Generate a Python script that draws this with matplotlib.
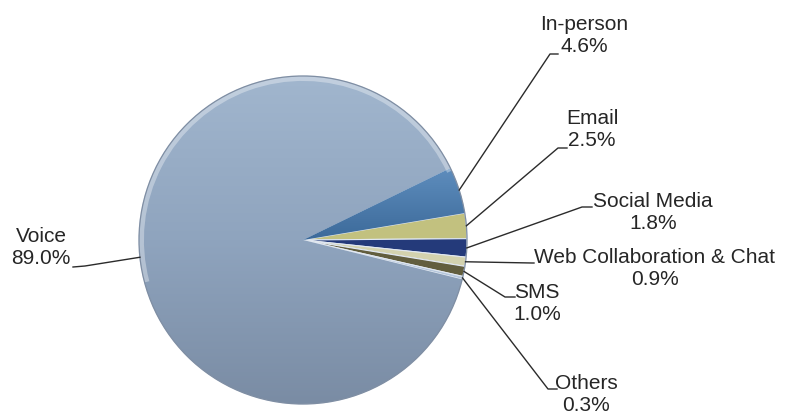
import numpy as np
import matplotlib
matplotlib.use("Agg")
import matplotlib.pyplot as plt
from matplotlib.colors import LinearSegmentedColormap
from matplotlib.patches import Arc

plt.rcParams['font.family'] = ['Liberation Sans', 'DejaVu Sans']

channels = ["In-person", "Email", "Social Media", "Web Collaboration & Chat",
            "SMS", "Others", "Voice"]
shares = [4.6, 2.5, 1.8, 0.9, 1.0, 0.3, 89.0]
colors = ["#4676a7", "#c2c17f", "#243a7a", "#d3d2ae", "#625e3e", "#b4c6dc", "#8da2bd"]

# label block centres and leader elbows (pixel space)
label_pos = [(584, 35), (592, 130), (653, 213), (655, 269), (537, 304), (586, 395), (41, 248)]
elbows = [[(550, 55), (558, 55)],
          [(558, 149), (567, 149)],
          [(582, 208), (592, 208)],
          [(532, 264), (534, 264)],
          [(505, 298), (515, 298)],
          [(548, 390), (557, 390)],
          [(85, 267), (73, 268)]]

W, H = 791, 414
cx, cy, r = 303, 241, 164

fig = plt.figure(figsize=(W / 100, H / 100), dpi=100)
ax = fig.add_axes([0, 0, 1, 1])

# y axis is flipped, so counterclock in data runs clockwise on screen
wedges, _ = ax.pie(shares, colors=colors, startangle=-26, counterclock=True,
                   center=(cx, cy), radius=r, frame=False,
                   wedgeprops=dict(edgecolor="#e1e8f1", linewidth=0.8))
ax.set_xlim(0, W)
ax.set_ylim(H, 0)
ax.axis("off")

# soft vertical shading on the big slice
grad = np.linspace(0, 1, 256).reshape(-1, 1)
cmap = LinearSegmentedColormap.from_list("voice", ["#a1b6ce", "#8fa4be", "#7a8ca4"])
im = ax.imshow(grad, cmap=cmap, aspect="auto",
               extent=(cx - r, cx + r, cy + r, cy - r), zorder=1.5)
im.set_clip_path(wedges[-1])

cmap2 = LinearSegmentedColormap.from_list("inp", ["#5f8ebe", "#3c6a9a"])
im2 = ax.imshow(grad, cmap=cmap2, aspect="auto",
                extent=(cx, cx + r, cy, cy - 0.45 * r), zorder=1.5)
im2.set_clip_path(wedges[0])

# bevel: light band along the upper rim, thin outline around
ax.add_patch(Arc((cx, cy), 2 * r - 5, 2 * r - 5, theta1=165, theta2=335,
                 color="white", alpha=0.35, linewidth=3.5, zorder=2))
ax.add_patch(plt.Circle((cx, cy), r, fill=False, edgecolor="#7f8ea3",
                        linewidth=0.9, zorder=2))

for w, name, val, (tx, ty), elb in zip(wedges, channels, shares, label_pos, elbows):
    mid = np.deg2rad((w.theta1 + w.theta2) / 2)
    sx, sy = cx + r * np.cos(mid), cy + r * np.sin(mid)
    xs = [sx] + [p[0] for p in elb]
    ys = [sy] + [p[1] for p in elb]
    ax.plot(xs, ys, color="#2b2b2b", linewidth=1.0, zorder=3)
    ax.text(tx, ty, f"{name}\n{val:.1f}%", ha="center", va="center",
            fontsize=15, color="#262626", linespacing=1.2, multialignment="center")

fig.savefig("out.png", dpi=100)
